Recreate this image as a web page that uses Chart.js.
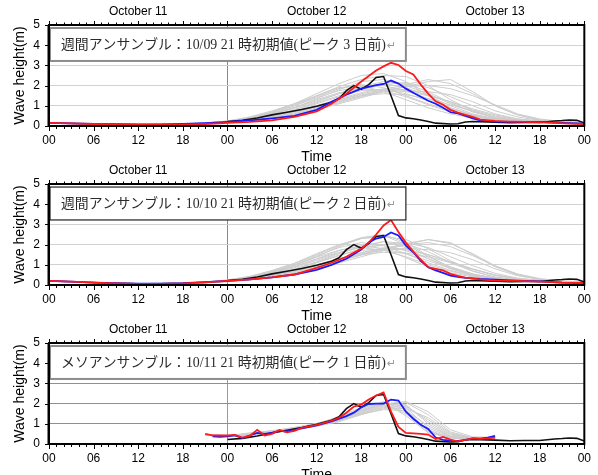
<!DOCTYPE html>
<html>
<head>
<meta charset="utf-8">
<script src="https://cdn.jsdelivr.net/npm/chart.js@4"></script>
<style>
html,body{margin:0;padding:0;background:#fff;overflow:hidden;width:598px;height:475px;position:relative}
.p{position:absolute;left:0;width:598px;height:170px}
</style>
</head>
<body>
<div class="p" style="top:0"><canvas id="c1" width="598" height="170"></canvas></div>
<div class="p" style="top:159px"><canvas id="c2" width="598" height="170"></canvas></div>
<div class="p" style="top:318px"><canvas id="c3" width="598" height="170"></canvas></div>
<script>
// ---------- labels ----------
const hourLabels = ['00','06','12','18'];
const dateLabels = ['October 11','October 12','October 13'];
const dateTickHours = [12,36,60];
const majorTickHours = [0,6,12,18,24,30,36,42,48,54,60,66,72];
const yTicks = [0,1,2,3,4,5];
const panelTitles = [
  '週間アンサンブル：10/09 21 時初期値(ピーク 3 日前)',
  '週間アンサンブル：10/10 21 時初期値(ピーク 2 日前)',
  'メソアンサンブル：10/11 21 時初期値(ピーク 1 日前)'
];

// ---------- time axes (hours from Oct 11 00) ----------
const hours3 = [0,3,6,9,12,15,18,21,24,27,30,33,36,39,42,45,48,51,54,57,60,63,66,69,72];
const mesoHours = [21,24,27,30,33,36,39,42,45,48,51,54,57,60];

// ---------- observation (black) ----------
const obsHours = [24,26,28,30,32,34,36,38,39,40,41,42,43,44,45,46,47,48,49,50,51,52,54,55,56,57,58,60,62,64,66,68,69,70,71,72];
const obsWave  = [0.22,0.28,0.4,0.55,0.68,0.82,0.98,1.18,1.35,1.75,2.0,1.82,2.05,2.4,2.45,1.5,0.52,0.4,0.36,0.3,0.22,0.14,0.1,0.11,0.2,0.22,0.21,0.19,0.16,0.17,0.17,0.25,0.27,0.3,0.28,0.15];

// ---------- panel 1 (10/09 21 init) ----------
const p1RedHours = [0,3,6,9,12,15,18,21,24,27,30,33,36,38,40,42,44,45,46,47,48,49,50,51,52,53,54,55,56,57,58,60,62,64,66,68,70,72];
const p1Red      = [0.15,0.13,0.1,0.08,0.06,0.06,0.07,0.1,0.15,0.2,0.28,0.45,0.72,1.1,1.6,2.2,2.75,2.95,3.13,3.02,2.72,2.55,2.05,1.6,1.22,1.05,0.8,0.66,0.55,0.45,0.32,0.25,0.22,0.2,0.18,0.15,0.12,0.1];
const p1BlueHours = [0,3,6,9,12,15,18,21,24,27,30,33,36,38,40,42,44,45,46,47,48,49,50,51,52,53,54,55,56,57,58,60,63,66,69,72];
const p1Blue      = [0.15,0.13,0.11,0.09,0.08,0.08,0.1,0.14,0.2,0.28,0.38,0.5,0.8,1.2,1.55,1.85,2.02,2.08,2.25,2.1,1.85,1.65,1.45,1.25,1.1,0.9,0.68,0.62,0.5,0.38,0.28,0.22,0.2,0.2,0.15,0.12];
const p1Members = [
  [0.15,0.13,0.11,0.09,0.08,0.08,0.09,0.12,0.18,0.3,0.5,0.8,1.2,1.6,1.9,2.1,1.9,1.5,1.0,0.6,0.35,0.25,0.2,0.18,0.15],
  [0.14,0.12,0.1,0.08,0.07,0.07,0.09,0.13,0.2,0.35,0.6,0.9,1.35,1.8,2.2,2.3,2.0,1.6,1.1,0.7,0.4,0.28,0.22,0.18,0.15],
  [0.15,0.13,0.1,0.08,0.07,0.08,0.1,0.14,0.22,0.4,0.7,1.1,1.5,1.9,2.0,1.7,1.3,0.9,0.6,0.4,0.3,0.22,0.18,0.16,0.14],
  [0.13,0.12,0.1,0.08,0.07,0.07,0.08,0.1,0.15,0.22,0.35,0.55,0.8,1.1,1.4,1.7,1.95,2.2,2.3,1.7,1.0,0.55,0.3,0.2,0.16],
  [0.15,0.13,0.1,0.09,0.08,0.08,0.1,0.13,0.2,0.3,0.45,0.7,1.0,1.3,1.6,1.8,1.7,1.5,1.2,0.8,0.5,0.3,0.22,0.18,0.15],
  [0.14,0.12,0.1,0.08,0.07,0.08,0.1,0.15,0.25,0.45,0.75,1.1,1.6,2.1,2.5,2.6,2.2,1.5,0.9,0.5,0.3,0.22,0.18,0.15,0.13],
  [0.15,0.13,0.11,0.09,0.08,0.08,0.09,0.12,0.17,0.28,0.42,0.65,0.95,1.25,1.5,1.6,1.55,1.35,1.05,0.75,0.45,0.3,0.22,0.18,0.15],
  [0.14,0.12,0.1,0.09,0.08,0.08,0.1,0.14,0.2,0.32,0.5,0.75,1.1,1.45,1.8,2.05,2.15,1.9,1.45,1.0,0.6,0.35,0.24,0.18,0.15],
  [0.15,0.14,0.11,0.09,0.08,0.08,0.1,0.13,0.22,0.38,0.65,1.0,1.45,1.85,2.05,1.9,1.5,1.1,0.75,0.5,0.35,0.25,0.2,0.17,0.15],
  [0.13,0.12,0.1,0.08,0.07,0.07,0.08,0.11,0.16,0.25,0.38,0.58,0.85,1.15,1.45,1.75,1.95,2.0,1.85,1.5,1.05,0.6,0.35,0.22,0.17],
  [0.15,0.13,0.1,0.08,0.07,0.08,0.1,0.14,0.24,0.42,0.7,1.05,1.5,1.95,2.3,2.5,2.45,2.0,1.3,0.75,0.4,0.25,0.2,0.16,0.14],
  [0.14,0.12,0.1,0.08,0.08,0.08,0.09,0.12,0.18,0.3,0.48,0.72,1.0,1.35,1.65,1.85,1.8,1.55,1.2,0.85,0.55,0.35,0.25,0.2,0.16],
  [0.15,0.13,0.11,0.09,0.08,0.09,0.11,0.15,0.24,0.4,0.62,0.92,1.3,1.65,1.85,1.75,1.45,1.05,0.7,0.45,0.32,0.24,0.2,0.17,0.15],
  [0.14,0.12,0.1,0.08,0.07,0.07,0.09,0.12,0.19,0.3,0.47,0.7,1.0,1.3,1.55,1.7,1.75,1.7,1.55,1.2,0.75,0.45,0.28,0.2,0.16],
  [0.15,0.13,0.1,0.09,0.08,0.08,0.1,0.14,0.22,0.36,0.58,0.88,1.25,1.6,1.95,2.2,2.1,1.7,1.15,0.7,0.42,0.28,0.21,0.17,0.15],
  [0.14,0.12,0.1,0.08,0.07,0.08,0.1,0.13,0.2,0.33,0.52,0.8,1.15,1.5,1.75,1.8,1.6,1.25,0.85,0.55,0.36,0.26,0.2,0.17,0.15],
  [0.13,0.11,0.09,0.08,0.07,0.07,0.08,0.11,0.17,0.27,0.4,0.6,0.9,1.2,1.5,1.8,2.05,2.3,2.1,1.6,1.0,0.55,0.3,0.2,0.15],
  [0.15,0.13,0.11,0.09,0.08,0.08,0.1,0.14,0.23,0.4,0.66,1.0,1.4,1.75,1.95,2.0,1.75,1.35,0.9,0.55,0.35,0.25,0.2,0.17,0.15]
];

// ---------- panel 2 (10/10 21 init) ----------
const p2RedHours = [0,3,6,9,12,15,18,21,24,27,30,33,36,38,40,42,43,44,45,46,47,48,49,50,51,52,53,54,55,56,58,60,63,66,69,72];
const p2Red      = [0.2,0.17,0.12,0.08,0.06,0.06,0.08,0.13,0.2,0.28,0.38,0.52,0.85,1.1,1.4,1.8,2.1,2.5,2.95,3.22,2.62,2.1,1.65,1.25,0.88,0.8,0.72,0.55,0.45,0.36,0.28,0.22,0.2,0.17,0.12,0.1];
const p2BlueHours = [0,3,6,9,12,15,18,21,24,27,30,33,36,38,40,42,43,44,45,46,47,48,49,50,51,52,53,54,55,56,58,60,63,66,69,72];
const p2Blue      = [0.2,0.17,0.12,0.09,0.07,0.07,0.09,0.14,0.2,0.28,0.38,0.52,0.75,1.0,1.3,1.75,2.1,2.3,2.38,2.6,2.45,1.95,1.62,1.2,0.88,0.72,0.6,0.47,0.4,0.35,0.3,0.27,0.22,0.18,0.12,0.1];
const p2Members = [
  [0.2,0.17,0.13,0.09,0.07,0.07,0.09,0.13,0.2,0.32,0.5,0.78,1.15,1.55,1.9,2.15,1.85,1.3,0.8,0.5,0.32,0.24,0.19,0.16,0.14],
  [0.19,0.16,0.12,0.09,0.07,0.07,0.09,0.14,0.22,0.38,0.62,0.95,1.4,1.9,2.3,2.45,2.0,1.4,0.9,0.55,0.33,0.24,0.19,0.16,0.14],
  [0.2,0.17,0.12,0.08,0.07,0.07,0.09,0.13,0.21,0.35,0.58,0.9,1.3,1.7,1.95,1.8,1.35,0.9,0.6,0.4,0.28,0.22,0.18,0.15,0.13],
  [0.18,0.16,0.12,0.09,0.07,0.07,0.08,0.11,0.16,0.24,0.37,0.56,0.82,1.1,1.4,1.7,2.0,2.25,2.1,1.5,0.9,0.5,0.28,0.19,0.15],
  [0.2,0.17,0.13,0.09,0.07,0.07,0.09,0.13,0.2,0.3,0.46,0.7,1.0,1.3,1.6,1.85,1.75,1.5,1.15,0.78,0.48,0.3,0.21,0.17,0.14],
  [0.19,0.16,0.12,0.09,0.07,0.08,0.1,0.15,0.24,0.42,0.7,1.05,1.5,1.95,2.35,2.5,2.1,1.45,0.85,0.48,0.3,0.22,0.18,0.15,0.13],
  [0.2,0.17,0.13,0.09,0.07,0.07,0.09,0.12,0.18,0.28,0.43,0.66,0.95,1.25,1.5,1.62,1.58,1.4,1.1,0.78,0.48,0.3,0.22,0.17,0.14],
  [0.19,0.16,0.12,0.09,0.07,0.08,0.1,0.14,0.21,0.33,0.5,0.76,1.1,1.45,1.8,2.0,2.1,1.85,1.4,0.95,0.58,0.34,0.23,0.17,0.14],
  [0.2,0.17,0.13,0.09,0.07,0.08,0.1,0.14,0.23,0.4,0.66,1.0,1.45,1.85,2.1,1.95,1.55,1.1,0.72,0.48,0.33,0.24,0.19,0.16,0.14],
  [0.18,0.16,0.12,0.08,0.07,0.07,0.08,0.11,0.17,0.26,0.39,0.6,0.88,1.18,1.48,1.78,2.0,2.1,1.9,1.45,0.95,0.55,0.32,0.2,0.15],
  [0.2,0.17,0.12,0.09,0.07,0.08,0.1,0.15,0.25,0.43,0.72,1.08,1.55,2.0,2.3,2.4,2.25,1.8,1.2,0.7,0.38,0.24,0.19,0.15,0.13],
  [0.19,0.16,0.12,0.09,0.07,0.07,0.09,0.12,0.18,0.3,0.47,0.7,1.0,1.3,1.6,1.8,1.78,1.5,1.15,0.8,0.5,0.32,0.23,0.18,0.15],
  [0.2,0.17,0.13,0.09,0.08,0.08,0.1,0.14,0.23,0.38,0.6,0.9,1.28,1.62,1.85,1.72,1.4,1.0,0.68,0.44,0.3,0.22,0.18,0.15,0.13],
  [0.19,0.16,0.12,0.09,0.07,0.07,0.09,0.12,0.18,0.29,0.45,0.68,0.98,1.28,1.55,1.72,1.8,1.75,1.6,1.25,0.8,0.46,0.28,0.19,0.15],
  [0.2,0.17,0.13,0.09,0.07,0.07,0.09,0.13,0.21,0.35,0.56,0.85,1.22,1.58,1.92,2.15,2.05,1.65,1.1,0.68,0.4,0.26,0.2,0.16,0.14],
  [0.19,0.16,0.12,0.09,0.07,0.08,0.1,0.13,0.2,0.32,0.5,0.78,1.12,1.48,1.72,1.78,1.55,1.2,0.82,0.52,0.34,0.24,0.19,0.16,0.14],
  [0.18,0.15,0.11,0.08,0.07,0.07,0.08,0.11,0.17,0.27,0.4,0.6,0.9,1.2,1.5,1.8,2.05,2.25,2.05,1.55,0.95,0.52,0.28,0.18,0.14],
  [0.2,0.17,0.13,0.09,0.07,0.08,0.1,0.14,0.22,0.39,0.65,0.98,1.38,1.72,1.92,1.95,1.7,1.3,0.88,0.54,0.34,0.24,0.19,0.16,0.14]
];

// ---------- panel 3 (meso, 10/11 21 init) ----------
const p3RedHours = [21,22,23,24,25,26,27,28,29,30,31,32,33,34,36,38,39,40,41,42,43,44,45,46,47,48,50,51,52,53,54,55,56,57,58,59,60];
const p3Red      = [0.5,0.43,0.42,0.42,0.45,0.32,0.4,0.7,0.42,0.5,0.7,0.58,0.65,0.8,0.95,1.15,1.3,1.55,1.85,1.95,2.2,2.4,2.55,1.6,0.85,0.55,0.5,0.47,0.25,0.35,0.22,0.13,0.2,0.28,0.25,0.28,0.32];
const p3BlueHours = [22,23,24,25,26,27,28,29,30,31,32,33,34,36,38,40,41,42,43,44,45,46,47,48,49,50,51,52,53,54,55,56,57,58,59,60];
const p3Blue      = [0.38,0.35,0.38,0.43,0.3,0.42,0.55,0.5,0.55,0.65,0.62,0.7,0.78,0.92,1.12,1.38,1.55,1.82,1.98,2.0,2.0,2.2,2.15,1.6,1.25,0.95,0.75,0.32,0.2,0.17,0.15,0.2,0.28,0.27,0.32,0.4];
const p3Members = [
  [0.45,0.4,0.45,0.55,0.7,0.9,1.2,1.6,1.95,1.5,0.6,0.3,0.25,0.3],
  [0.42,0.38,0.5,0.6,0.75,0.95,1.3,1.75,2.1,1.8,0.8,0.35,0.28,0.32],
  [0.48,0.42,0.48,0.6,0.72,0.9,1.15,1.5,1.85,1.9,1.1,0.45,0.3,0.3],
  [0.44,0.4,0.52,0.65,0.8,1.0,1.35,1.8,2.05,1.4,0.55,0.3,0.25,0.28],
  [0.46,0.4,0.46,0.58,0.7,0.88,1.1,1.45,1.75,1.75,1.3,0.55,0.3,0.3],
  [0.43,0.39,0.5,0.62,0.78,0.98,1.28,1.7,2.0,1.95,1.0,0.4,0.27,0.3],
  [0.47,0.41,0.47,0.57,0.72,0.92,1.2,1.55,1.9,2.05,1.45,0.6,0.3,0.32],
  [0.45,0.4,0.55,0.66,0.82,1.02,1.32,1.65,1.95,1.6,0.7,0.32,0.26,0.3],
  [0.44,0.38,0.48,0.6,0.74,0.93,1.18,1.52,1.8,1.85,1.2,0.5,0.28,0.31],
  [0.46,0.42,0.5,0.63,0.78,0.96,1.25,1.62,1.98,2.1,1.6,0.7,0.35,0.33],
  [0.45,0.4,0.47,0.58,0.73,0.9,1.15,1.48,1.7,1.65,0.9,0.38,0.27,0.3],
  [0.47,0.41,0.52,0.64,0.8,1.0,1.3,1.68,2.05,1.7,0.65,0.3,0.26,0.3]
];

// ---------- drawing ----------
const SANS = "'Liberation Sans', Arial, Helvetica, sans-serif";
const pts = (hs, vs) => hs.map((h, i) => ({x: h, y: vs[i]}));

const decor = {
  id: 'decor',
  afterDatasetsDraw(chart, args, o) {
    const ctx = chart.ctx, a = chart.chartArea;
    const xs = chart.scales.x, ys = chart.scales.y;
    ctx.save();
    // annotation box
    const bx = a.left + 1, bx2 = xs.getPixelForValue(48);
    const by = ys.getPixelForValue(4.85), by2 = ys.getPixelForValue(3.22);
    ctx.fillStyle = '#fff';
    ctx.fillRect(bx, by, bx2 - bx, by2 - by);
    ctx.strokeStyle = o.boxColor; ctx.lineWidth = o.boxWidth;
    ctx.strokeRect(bx, by, bx2 - bx, by2 - by);
    // text, fitted to the box
    const tx = a.left + 12, tw = bx2 - 8 - tx - 12;
    const fam = "'Liberation Serif', 'Noto Sans CJK JP', serif";
    ctx.font = '14px ' + fam;
    const w0 = ctx.measureText(o.text).width;
    const fs = 14 * tw / w0;
    ctx.font = fs.toFixed(2) + 'px ' + fam;
    ctx.fillStyle = '#2a2a2a'; ctx.textBaseline = 'middle'; ctx.textAlign = 'left';
    const ty = (by + by2) / 2 + 1;
    ctx.fillText(o.text, tx, ty);
    ctx.fillStyle = '#9a9a9a';
    ctx.font = '11px DejaVu Sans';
    ctx.fillText('↵', tx + tw + 1, ty + 1);
    // ticks
    ctx.strokeStyle = '#000'; ctx.lineWidth = 1;
    ctx.beginPath();
    for (let h = 0; h <= 72; h++) {
      const x = Math.round(xs.getPixelForValue(h)) + 0.5;
      const major = h % 6 === 0;
      ctx.moveTo(x, a.bottom); ctx.lineTo(x, a.bottom + (major ? 5 : 3));
      ctx.moveTo(x, a.top); ctx.lineTo(x, a.top - (major ? 4 : 2.5));
    }
    yTicks.forEach(v => {
      const y = Math.round(ys.getPixelForValue(v)) + 0.5;
      ctx.moveTo(a.left - 4, y); ctx.lineTo(a.left, y);
    });
    ctx.stroke();
    // frame
    ctx.lineWidth = 2;
    ctx.strokeRect(a.left, a.top, a.right - a.left, a.bottom - a.top);
    ctx.lineWidth = 1;
    ctx.beginPath(); ctx.moveTo(a.left - 1, a.top); ctx.lineTo(a.left - 1, a.bottom); ctx.stroke();
    ctx.restore();
  }
};

function makePanel(id, title, redH, red, blueH, blue, memH, members, hCol, v1Col, v2Col, boxColor, boxWidth) {
  const datasets = [
    {data: pts(redH, red), borderColor: '#ff1a1a', borderWidth: 1.8, order: 1},
    {data: pts(blueH, blue), borderColor: '#1a1aff', borderWidth: 1.8, order: 2},
    {data: pts(obsHours, obsWave), borderColor: '#111', borderWidth: 1.6, order: 3}
  ];
  members.forEach(m => datasets.push({data: pts(memH, m), borderColor: '#cdcdcd', borderWidth: 1, order: 10}));
  datasets.forEach(d => { d.pointRadius = 0; d.tension = 0; d.fill = false; });
  new Chart(document.getElementById(id), {
    type: 'line',
    data: {datasets},
    plugins: [decor],
    options: {
      responsive: false, animation: false, events: [],
      layout: {padding: {left: 0, right: 12, top: 0, bottom: 0}},
      plugins: {legend: {display: false}, tooltip: {enabled: false},
        decor: {text: title, boxColor, boxWidth}},
      scales: {
        x: {type: 'linear', position: 'bottom', min: 0, max: 72,
          afterBuildTicks: s => { s.ticks = majorTickHours.map(v => ({value: v})); },
          afterFit: s => { s.height = 44; },
          ticks: {autoSkip: false, maxRotation: 0, minRotation: 0, padding: 7, color: '#000',
            font: {family: SANS, size: 12}, callback: v => hourLabels[(v / 6) % 4]},
          grid: {drawTicks: false, lineWidth: 1,
            color: c => (c.tick && c.tick.value === 24) ? v1Col : (c.tick && c.tick.value === 48) ? v2Col : 'rgba(0,0,0,0)'},
          border: {display: false},
          title: {display: true, text: 'Time', color: '#000', font: {family: SANS, size: 14, lineHeight: 1}, padding: {top: 0, bottom: 6}}
        },
        x2: {type: 'linear', position: 'top', min: 0, max: 72,
          afterBuildTicks: s => { s.ticks = dateTickHours.map(v => ({value: v})); },
          afterFit: s => { s.height = 25; },
          ticks: {autoSkip: false, maxRotation: 0, minRotation: 0, padding: 6, color: '#000',
            font: {family: SANS, size: 12}, callback: (v, i) => dateLabels[i]},
          grid: {display: false, drawTicks: false, drawOnChartArea: false},
          border: {display: false}
        },
        y: {type: 'linear', min: 0, max: 5,
          afterBuildTicks: s => { s.ticks = yTicks.map(v => ({value: v})); },
          afterFit: s => { s.width = 49; },
          ticks: {padding: 9, color: '#000', font: {family: SANS, size: 12}},
          grid: {drawTicks: false, lineWidth: 1,
            color: c => (c.tick && c.tick.value > 0 && c.tick.value < 5) ? hCol : 'rgba(0,0,0,0)'},
          border: {display: false},
          title: {display: true, text: 'Wave height(m)', color: '#000', font: {family: SANS, size: 14, lineHeight: 1}, padding: {top: 13, bottom: 0}}
        }
      }
    }
  });
}

makePanel('c1', panelTitles[0], p1RedHours, p1Red, p1BlueHours, p1Blue, hours3, p1Members, '#d2d2d2', '#8a8a8a', '#d8d8d8', '#8c8c8c', 2);
makePanel('c2', panelTitles[1], p2RedHours, p2Red, p2BlueHours, p2Blue, hours3, p2Members, '#d2d2d2', '#8a8a8a', '#d8d8d8', '#222', 1.2);
makePanel('c3', panelTitles[2], p3RedHours, p3Red, p3BlueHours, p3Blue, mesoHours, p3Members, '#8f8f8f', '#9a9a9a', '#e2e2e2', '#8c8c8c', 2);
</script>
</body>
</html>
